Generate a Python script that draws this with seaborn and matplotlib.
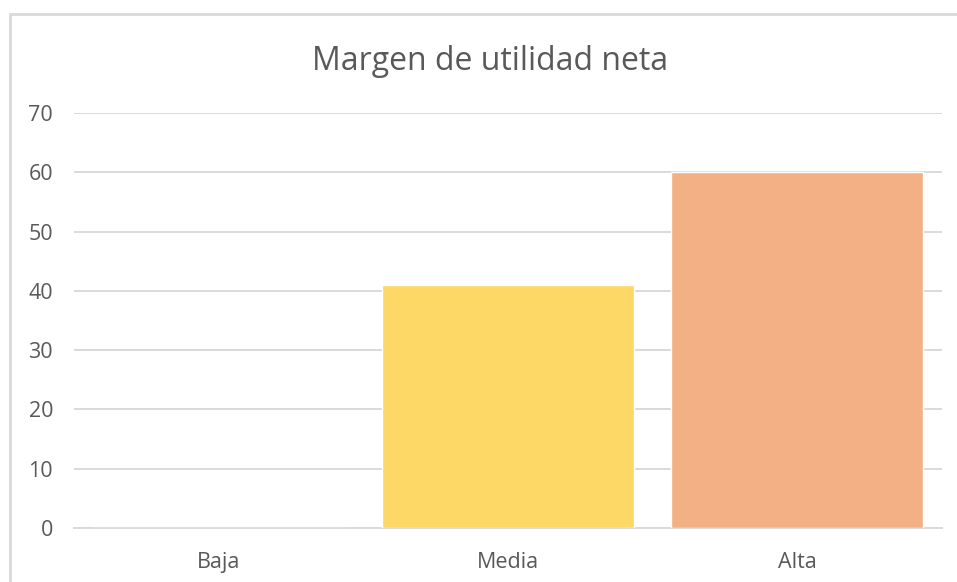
import matplotlib
matplotlib.use("Agg")
import matplotlib.pyplot as plt
from matplotlib.patches import Rectangle
import seaborn as sns
import pandas as pd

# data
categories = ["Baja", "Media", "Alta"]
values = [0, 41, 60]
colors = ["#5B9BD5", "#FDD866", "#F3B084"]
y_ticks = [0, 10, 20, 30, 40, 50, 60, 70]

sns.set_style("white")
plt.rcParams["font.family"] = ["Open Sans", "DejaVu Sans"]

df = pd.DataFrame({"nivel": categories, "margen": values})

fig = plt.figure(figsize=(9.57, 5.82), dpi=100)
ax = fig.add_axes([74 / 957, 1 - 528 / 582, (942 - 74) / 957, (528 - 113) / 582])

sns.barplot(data=df, x="nivel", y="margen", hue="nivel", palette=colors,
            legend=False, width=0.871, saturation=1, ax=ax, zorder=3)

ax.set_ylim(0, 70)
ax.set_yticks(y_ticks)
ax.set_xlim(-0.5, 2.5)
ax.yaxis.grid(True, color="#D9D9D9", linewidth=1.4, zorder=0)
ax.set_axisbelow(True)
for s in ax.spines.values():
    s.set_visible(False)
ax.spines["bottom"].set_visible(True)
ax.spines["bottom"].set_color("#D9D9D9")
ax.spines["bottom"].set_linewidth(1.4)
ax.tick_params(axis="both", length=0, labelsize=15.5, labelcolor="#595959")
ax.tick_params(axis="y", pad=15)
ax.tick_params(axis="x", pad=17)
ax.set_xlabel("")
ax.set_ylabel("")

fig.text(490 / 957, 1 - 62 / 582, "Margen de utilidad neta", ha="center", va="center",
         fontsize=23, color="#595959")

# chart border (partly outside the picture)
fig.patches.append(Rectangle((10 / 957, -0.2), 1.2, 1 - 14 / 582 + 0.2,
                             transform=fig.transFigure, fill=False,
                             edgecolor="#D9D9D9", linewidth=2))

fig.savefig("out.png", dpi=100)
